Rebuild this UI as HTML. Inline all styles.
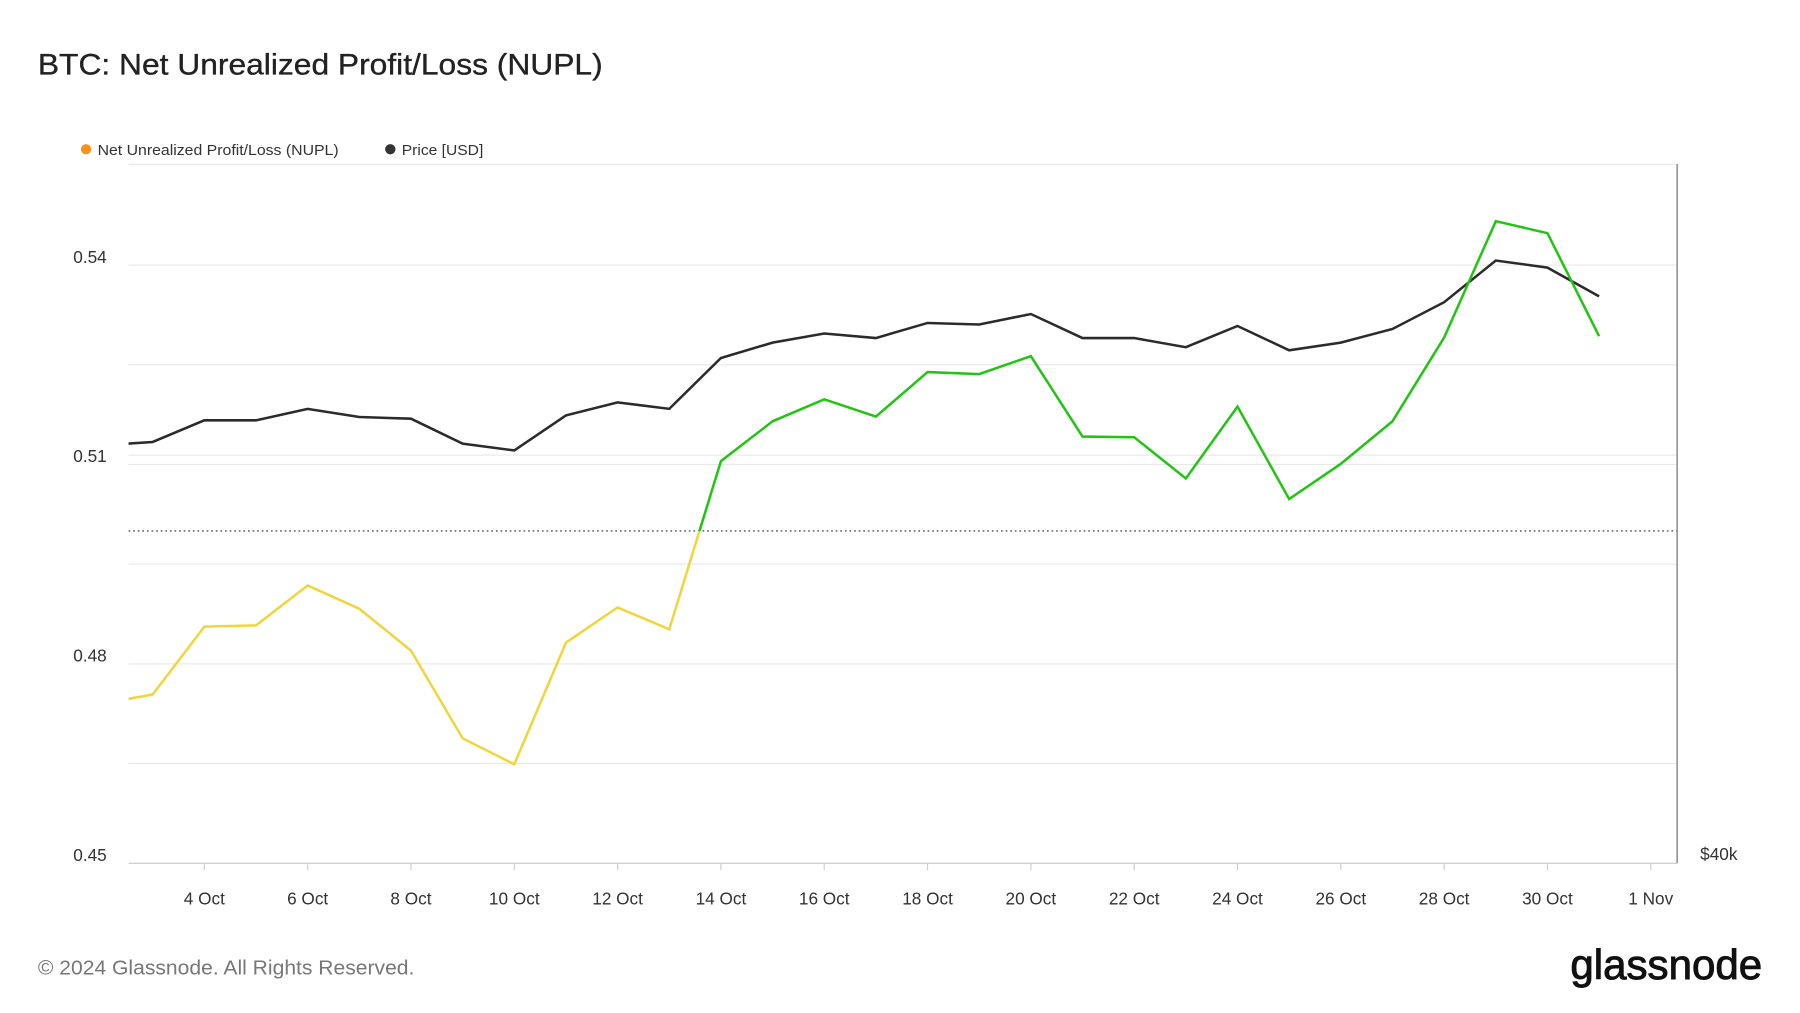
<!DOCTYPE html>
<html><head><meta charset="utf-8"><style>
html,body{margin:0;padding:0;background:#fff;}
svg{display:block;font-family:"Liberation Sans",sans-serif;}
</style></head><body>
<svg id="chart" width="1800" height="1013" viewBox="0 0 1568 882.4" preserveAspectRatio="none" xmlns="http://www.w3.org/2000/svg">
<text x="33" y="65" font-size="26" fill="#222" stroke="#222" stroke-width="0.3" textLength="492" lengthAdjust="spacingAndGlyphs">BTC: Net Unrealized Profit/Loss (NUPL)</text>
<g>
<circle cx="75" cy="130" r="4.5" fill="#f7931a"/>
<text x="85" y="135" font-size="13" fill="#333" textLength="210" lengthAdjust="spacingAndGlyphs">Net Unrealized Profit/Loss (NUPL)</text>
<circle cx="340" cy="130" r="4.5" fill="#333"/>
<text x="350" y="135" font-size="13" fill="#333" textLength="71" lengthAdjust="spacingAndGlyphs">Price [USD]</text>
</g>
<g id="grid"></g>
<g id="axes"></g>
<g id="series"></g>
<text x="33" y="849" font-size="18" fill="#777" textLength="328" lengthAdjust="spacingAndGlyphs">© 2024 Glassnode. All Rights Reserved.</text>
<text x="1368" y="853" font-size="36" fill="#111" stroke="#111" stroke-width="0.8" textLength="167" lengthAdjust="spacingAndGlyphs">glassnode</text>
</svg>
<script>
const days = [2,3,4,5,6,7,8,9,10,11,12,13,14,15,16,17,18,19,20,21,22,23,24,25,26,27,28,29,30,31];
const nupl = [0.4740,0.4754,0.4856,0.4858,0.4918,0.4883,0.4820,0.4688,0.4649,0.4832,0.4885,0.4852,0.5105,0.5165,0.5198,0.5172,0.5239,0.5236,0.5263,0.5142,0.5141,0.5079,0.5187,0.5048,0.5101,0.5165,0.5291,0.5466,0.5448,0.5293];
const price = [60.3,60.5,61.8,61.8,62.5,62.0,61.9,60.4,60.0,62.1,62.9,62.5,65.7,66.7,67.3,67.0,68.0,67.9,68.6,67.0,67.0,66.4,67.8,66.2,66.7,67.6,69.4,72.3,71.8,69.8];
const yTicks = [0.45,0.48,0.51,0.54];
const xTickDays = [4,6,8,10,12,14,16,18,20,22,24,26,28,30,32];
const xTickLabels = ["4 Oct","6 Oct","8 Oct","10 Oct","12 Oct","14 Oct","16 Oct","18 Oct","20 Oct","22 Oct","24 Oct","26 Oct","28 Oct","30 Oct","1 Nov"];

const NS="http://www.w3.org/2000/svg";
const L=112,R=1461,T=143,B=752;
const x=d=>178+(d-4)*45;
const y=v=>B-(v-0.45)/0.03*173.7;
const yp=p=>B-Math.log(p/40)*887;
function mk(tag,attrs,parent){const e=document.createElementNS(NS,tag);for(const k in attrs)e.setAttribute(k,attrs[k]);parent.appendChild(e);return e;}
const grid=document.getElementById('grid'),axes=document.getElementById('axes'),series=document.getElementById('series');
mk('line',{x1:L,x2:R,y1:T,y2:T,stroke:'#e6e6e6'},grid);
for(let v=0.45;v<=0.5501;v+=0.015){
  const g=mk('line',{x1:L,x2:R,y1:y(v),y2:y(v),stroke:'#e8e8e8','stroke-width':1},grid);
  
  
}
const pg=mk('line',{x1:L,x2:R,y1:yp(60)+4,y2:yp(60)+4,stroke:'#e8e8e8'},grid);


const th=mk('line',{x1:L,x2:R,y1:y(0.5),y2:y(0.5),stroke:'#555','stroke-dasharray':'1.5 2.5','stroke-width':1.2},grid);


yTicks.forEach(v=>{
  const t=mk('text',{x:93,y:y(v)-2,'font-size':15,fill:'#333','text-anchor':'end'},axes);t.textContent=v.toFixed(2);
  
  
});
const ra=mk('line',{x1:R,x2:R,y1:T,y2:B,stroke:'#999','stroke-width':1.5},axes);


const xa=mk('line',{x1:L,x2:R,y1:B,y2:B,stroke:'#ccc'},axes);


const pl=mk('text',{x:1481,y:749,'font-size':15,fill:'#333'},axes);pl.textContent='$40k';


xTickDays.forEach((d,i)=>{
  mk('line',{x1:x(d),x2:x(d),y1:B,y2:B+6,stroke:'#ccc'},axes);
  const t=mk('text',{x:x(d),y:788,'font-size':15,fill:'#333','text-anchor':'middle'},axes);t.textContent=xTickLabels[i];
  
  
});
const defs=mk('defs',{},series);
const c1=mk('clipPath',{id:'above'},defs);mk('rect',{x:L,y:T-60,width:R-L,height:y(0.5)-T+60},c1);
const c2=mk('clipPath',{id:'below'},defs);mk('rect',{x:L,y:y(0.5),width:R-L,height:B-y(0.5)},c2);
const c3=mk('clipPath',{id:'plot'},defs);mk('rect',{x:L,y:T-60,width:R-L,height:B-T+60},c3);
const dN=nupl.map((v,i)=>(i?'L':'M')+x(days[i])+','+y(v)).join(' ');
const dP=price.map((v,i)=>(i?'L':'M')+x(days[i])+','+yp(v)).join(' ');
const pp=mk('path',{d:dP,fill:'none',stroke:'#2b2b2b','stroke-width':2.2,'clip-path':'url(#plot)'},series);


const ny=mk('path',{d:dN,fill:'none',stroke:'#f2d53c','stroke-width':2.2,'clip-path':'url(#below)'},series);


const ng=mk('path',{d:dN,fill:'none',stroke:'#23c414','stroke-width':2.2,'clip-path':'url(#above)'},series);


series.setAttribute('clip-path','url(#plot)');
</script>
</body></html>
